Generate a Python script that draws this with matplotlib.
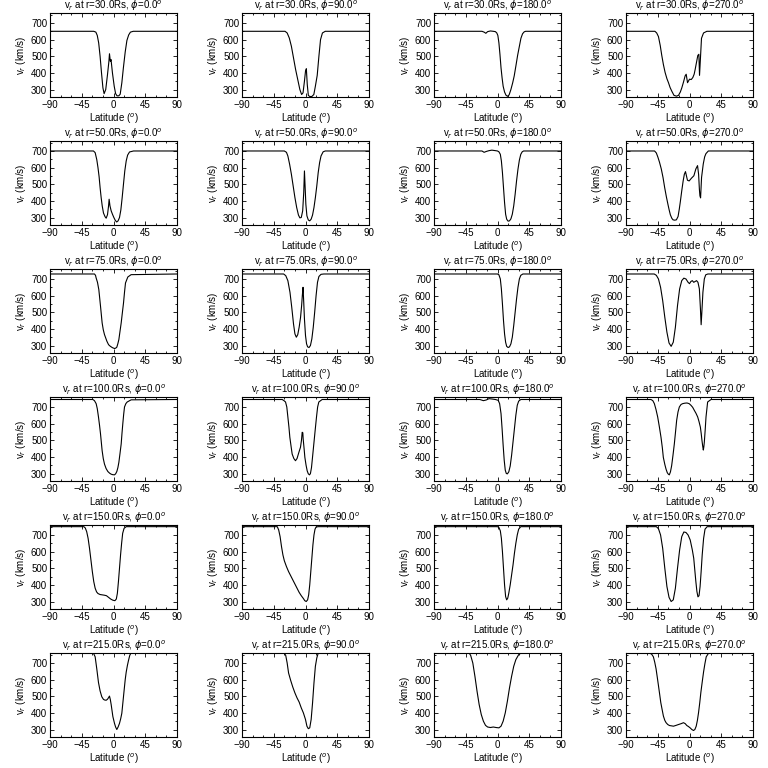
import numpy as np
import matplotlib
matplotlib.use("Agg")
import matplotlib.pyplot as plt
from matplotlib.ticker import MultipleLocator

plt.rcParams['font.family'] = ['Liberation Sans', 'DejaVu Sans']
plt.rcParams['mathtext.fontset'] = 'dejavusans'

radii = [30.0, 50.0, 75.0, 100.0, 150.0, 215.0]
phis = [0.0, 90.0, 180.0, 270.0]

# ---- r = 30 Rs ----
lat_30_0 = [-90, -28, -25, -23, -21, -19, -17, -15, -13.3, -11, -8.5, -6.5, -5.7, -4.5, -3.5, -1.5, 1, 3, 5, 7.5, 9.5, 11.8, 14, 16.6, 19, 21.5, 24, 28, 90]
v_30_0 = [650, 650, 645, 625, 580, 500, 400, 310, 275, 300, 390, 470, 515, 470, 480, 400, 320, 275, 262, 262, 272, 340, 430, 526, 595, 628, 645, 650, 650]
lat_30_90 = [-90, -29, -26, -23, -20, -17, -14, -11, -8, -5.5, -3.5, -1.5, 0, 1.2, 2.5, 4, 6, 9, 11.8, 14, 16.6, 19, 21.3, 24, 28, 90]
v_30_90 = [650, 650, 640, 610, 560, 490, 420, 360, 300, 270, 280, 350, 410, 425, 330, 265, 258, 258, 270, 320, 385, 500, 600, 640, 650, 650]
lat_30_180 = [-90, -22, -19, -16.5, -14, -10, -6, -3, -1, 0.5, 2, 3.5, 5, 6.5, 8, 10, 12, 14.3, 16.5, 19, 21.5, 23.7, 26, 28.5, 31, 33.2, 35.5, 37.9, 40, 43, 90]
v_30_180 = [650, 650, 645, 638, 648, 652, 650, 648, 640, 625, 580, 510, 430, 370, 320, 285, 266, 259, 268, 300, 340, 382, 440, 505, 560, 608, 635, 647, 650, 650, 650]
lat_30_270 = [-90, -49, -46.5, -44, -41.5, -39.3, -37, -34.6, -32, -29.8, -27.5, -25.1, -22, -18.5, -15.6, -13, -10.9, -8.5, -6.2, -4.7, -2.8, 0, 2.5, 4.7, 6.6, 8, 9.5, 11.8, 13.3, 14.2, 15.6, 17, 19.9, 24.6, 90]
v_30_270 = [650, 650, 640, 618, 565, 505, 450, 403, 365, 341, 312, 290, 265, 260, 265, 285, 310, 345, 382, 392, 341, 362, 360, 372, 392, 420, 454, 505, 512, 385, 495, 608, 640, 650, 650]

# ---- r = 50 Rs ----
lat_50_0 = [-90, -28.4, -26, -23.7, -22, -20.4, -19, -17.5, -16, -14.2, -12, -10.4, -8.5, -7, -6.2, -5, -3.3, -1.5, 0.5, 2.5, 4.5, 6.5, 8.5, 10.4, 12.3, 14.2, 16, 18, 20, 22.7, 28.4, 90]
v_50_0 = [700, 700, 690, 648, 600, 545, 480, 420, 370, 327, 305, 296, 317, 370, 410, 370, 340, 320, 300, 283, 273, 280, 300, 345, 420, 503, 580, 640, 675, 694, 700, 700]
lat_50_90 = [-90, -30, -27, -25, -22.5, -20, -17.5, -15, -12.5, -10, -8, -6, -4, -2.5, -1.5, -0.5, 0.5, 2, 4, 6, 8, 10, 12, 14, 16, 18, 20, 22, 25, 28, 90]
v_50_90 = [700, 700, 692, 670, 620, 560, 490, 420, 360, 315, 298, 300, 340, 450, 580, 480, 380, 310, 285, 280, 290, 315, 360, 420, 490, 570, 630, 670, 695, 700, 700]
lat_50_180 = [-90, -22, -19, -16, -12, -8, -3, 0, 2, 4, 5.5, 7, 8.5, 10, 11.5, 13, 15, 17, 19, 21, 23, 25, 27, 29, 31, 33, 35, 37, 90]
v_50_180 = [700, 700, 692, 697, 702, 705, 702, 700, 695, 680, 640, 570, 480, 390, 320, 290, 278, 280, 292, 320, 370, 440, 520, 590, 645, 680, 695, 700, 700]
lat_50_270 = [-90, -49.5, -47, -44.8, -42.5, -40, -37.5, -35.2, -32.8, -30.5, -28.8, -27.1, -25, -23.3, -21, -18.6, -16.2, -14.5, -12.9, -11, -9, -7.3, -5.7, -4.3, -2.9, -0.5, 2.9, 6.2, 9, 11.4, 12.9, 14, 14.8, 15.7, 16.4, 17.1, 19.5, 21.5, 23.3, 26.7, 90]
v_50_270 = [700, 700, 688, 663, 632, 592, 540, 480, 425, 378, 345, 316, 295, 286, 284, 286, 306, 350, 398, 460, 520, 560, 576, 550, 524, 520, 537, 551, 592, 612, 560, 470, 430, 418, 480, 541, 622, 665, 684, 700, 700]

# ---- r = 75 Rs ----
lat_75_0 = [-90, -27, -25.5, -24.6, -22.7, -20.8, -18.4, -16.1, -14.5, -12.8, -9.4, -7, -4.7, -1.5, 1.4, 3, 4.7, 6.1, 7.6, 9.2, 10.9, 12.5, 14.2, 15.6, 17, 20.3, 25, 90]
v_75_0 = [730, 730, 722, 706, 680, 636, 536, 436, 395, 366, 326, 305, 296, 287, 282, 284, 290, 310, 336, 385, 436, 495, 556, 620, 676, 712, 726, 730]
lat_75_90 = [-90, -31, -28, -25, -22, -19.5, -17, -15, -13, -11, -9, -7, -5.5, -4.5, -3.5, -2.5, -1.5, 0, 1.5, 3, 5, 7, 9, 11, 13, 15, 17, 19, 22, 26, 90]
v_75_90 = [730, 730, 720, 690, 620, 530, 430, 370, 350, 365, 410, 470, 540, 600, 650, 560, 460, 360, 310, 292, 288, 300, 340, 410, 500, 600, 680, 715, 728, 730, 730]
lat_75_180 = [-90, 0, 2, 4, 5.5, 7, 8.5, 10, 11.5, 13, 15, 17, 19, 21, 23, 25, 27, 29, 31, 33, 36, 90]
v_75_180 = [730, 730, 725, 700, 640, 550, 450, 370, 320, 295, 288, 292, 310, 350, 420, 500, 580, 650, 700, 722, 730, 730]
lat_75_270 = [-90, -50, -47, -44, -41, -38, -35, -32, -29, -26, -23, -20, -17, -14, -11, -8, -5, -2, 0, 2, 4, 6, 8, 10, 12, 14, 15.5, 16.5, 17.5, 19, 21, 23, 26, 90]
v_75_270 = [730, 730, 722, 700, 650, 570, 470, 380, 315, 295, 320, 410, 540, 640, 690, 705, 700, 680, 672, 685, 690, 680, 685, 690, 680, 640, 520, 425, 500, 620, 700, 725, 730, 730]

# ---- r = 100 Rs ----
lat_100_0 = [-90, -29.3, -27, -24.6, -23, -21.3, -19.8, -18.4, -17.2, -16.1, -14.5, -12.8, -10.5, -8, -5.5, -3.3, -1, 1.4, 3, 4.7, 6.2, 7.6, 9.2, 10.9, 12, 13.2, 14.4, 15.6, 17.5, 19.4, 25, 90]
v_100_0 = [745, 745, 738, 720, 690, 640, 590, 538, 485, 437, 390, 357, 330, 312, 302, 296, 293, 292, 298, 312, 335, 367, 420, 478, 540, 600, 655, 700, 720, 730, 743, 745]
lat_100_90 = [-90, -33, -30.5, -28.3, -26.5, -25, -23.5, -22.2, -20.5, -18.9, -16.5, -14.2, -12, -9.4, -7.1, -5.7, -4.7, -3.8, -3.3, -2, -0.9, 0.8, 2.4, 4, 5.7, 7, 8.5, 10, 11.8, 13.7, 15.6, 17.2, 18.9, 23.6, 90]
v_100_90 = [745, 745, 738, 730, 700, 640, 580, 518, 465, 417, 390, 377, 390, 427, 458, 500, 548, 545, 508, 450, 397, 350, 316, 298, 292, 300, 336, 400, 478, 560, 640, 700, 730, 745, 745]
lat_100_180 = [-90, -25, -20, -16, -12, -8, -3, 1, 3, 5, 6.5, 8, 9.5, 11, 12.5, 14, 16, 18, 20, 22, 24, 26, 28, 30, 33, 90]
v_100_180 = [745, 745, 738, 742, 750, 748, 745, 740, 720, 660, 570, 470, 380, 320, 300, 298, 310, 345, 410, 490, 570, 650, 710, 735, 745, 745]
lat_100_270 = [-90, -54.6, -52, -49.8, -47.5, -45.1, -42.7, -40.4, -38.5, -37.1, -35, -33.3, -31.5, -30, -28.6, -27, -25.3, -23.4, -21.5, -19.8, -18.2, -16.3, -14.4, -12, -9.7, -6.5, -3.5, -0.5, 2.1, 4.5, 6.8, 9.2, 11.6, 13.5, 15.4, 16.6, 17.7, 18.7, 19.6, 20.3, 21, 22.2, 23.4, 25.7, 30.5, 90]
v_100_270 = [745, 745, 738, 720, 685, 640, 580, 518, 455, 397, 355, 327, 305, 296, 292, 310, 347, 410, 478, 550, 620, 670, 700, 715, 720, 723, 724, 720, 710, 698, 680, 662, 640, 612, 579, 540, 498, 465, 441, 460, 488, 560, 640, 730, 745, 745]

# ---- r = 150 Rs ----
lat_150_0 = [-90, -42, -40, -38, -36, -34, -32, -30, -28, -26, -24, -22, -19, -16, -13, -10, -7, -4, -1, 2, 4, 5.5, 7, 8.5, 10, 11.5, 13, 15, 18, 90]
v_150_0 = [750, 750, 742, 720, 680, 620, 550, 480, 420, 380, 358, 348, 342, 340, 338, 335, 325, 315, 308, 305, 315, 350, 420, 500, 580, 650, 710, 740, 750, 750]
lat_150_90 = [-90, -40, -38, -36, -34, -32, -30, -27, -24, -21, -18, -15, -12, -9, -6, -3, -1, 1, 3, 4.5, 6, 7.5, 9, 10.5, 12, 13.5, 15, 18, 90]
v_150_90 = [750, 750, 730, 690, 630, 580, 545, 510, 480, 455, 430, 405, 380, 355, 335, 318, 305, 300, 310, 340, 400, 480, 560, 640, 700, 735, 748, 750, 750]
lat_150_180 = [-90, 0, 2, 4, 5.5, 7, 8.5, 10, 11.5, 13, 14.5, 16, 18, 20, 22, 24, 26, 28, 30, 33, 90]
v_150_180 = [750, 750, 745, 725, 680, 600, 500, 400, 330, 310, 320, 350, 400, 460, 520, 590, 650, 700, 735, 750, 750]
lat_150_270 = [-90, -47, -44, -41, -38, -35, -32, -29, -26, -23, -20, -17, -14, -11, -8, -5, -2, 1, 4, 6, 7.5, 9, 10.5, 12, 13.5, 15, 16.5, 18, 20, 22, 25, 90]
v_150_270 = [750, 750, 738, 700, 620, 500, 390, 325, 300, 310, 380, 500, 610, 690, 718, 715, 700, 670, 610, 560, 490, 420, 360, 328, 335, 390, 480, 580, 680, 735, 750, 750]

# ---- r = 215 Rs ----
lat_215_0 = [-90, -28.4, -26, -23.7, -21.3, -19, -16.6, -14.2, -12.3, -10.4, -8.5, -7.1, -5.7, -4.5, -3.3, -0.9, 1.4, 3, 4.7, 6.5, 8.5, 10.2, 11.8, 13.5, 15.2, 16.6, 18, 19.7, 21.3, 23, 24.6, 90]
v_215_0 = [759, 759, 737, 665, 583, 532, 497, 481, 477, 476, 482, 491, 501, 480, 450, 378, 337, 315, 300, 315, 337, 365, 398, 470, 542, 600, 645, 685, 716, 745, 759, 759]
lat_215_90 = [-90, -30, -28, -26, -24, -21, -18, -15, -12, -9, -6, -3, 0, 2, 4, 6, 8, 10, 12, 14, 16, 18, 90]
v_215_90 = [759, 759, 745, 700, 640, 595, 555, 520, 490, 465, 430, 400, 360, 320, 305, 310, 360, 460, 580, 680, 730, 759, 759]
lat_215_180 = [-90, -40, -38, -35, -32, -29, -26, -23, -20, -17, -14, -10, -6, -2, 2, 5, 8, 11, 14, 17, 20, 23, 26, 30, 33, 90]
v_215_180 = [759, 759, 745, 700, 620, 530, 450, 390, 350, 325, 315, 312, 315, 312, 310, 320, 350, 400, 470, 550, 620, 680, 720, 750, 759, 759]
lat_215_270 = [-90, -56, -53.5, -51.2, -49.3, -47.4, -45.7, -44, -42.3, -40.7, -38.8, -37, -35, -33.2, -30.8, -28.4, -25.5, -22.7, -19, -15.6, -12, -8.5, -6, -3.8, -1.5, 0.9, 3.3, 5.7, 7.6, 9.5, 11.2, 12.8, 14.5, 16.1, 18, 19.9, 21.8, 23.7, 27, 90]
v_215_270 = [759, 759, 752, 737, 705, 665, 615, 564, 512, 462, 420, 381, 355, 341, 330, 324, 322, 320, 325, 330, 335, 341, 335, 324, 318, 310, 300, 294, 300, 320, 355, 401, 460, 523, 585, 645, 695, 737, 759, 759]

curves = [
    [(lat_30_0, v_30_0), (lat_30_90, v_30_90), (lat_30_180, v_30_180), (lat_30_270, v_30_270)],
    [(lat_50_0, v_50_0), (lat_50_90, v_50_90), (lat_50_180, v_50_180), (lat_50_270, v_50_270)],
    [(lat_75_0, v_75_0), (lat_75_90, v_75_90), (lat_75_180, v_75_180), (lat_75_270, v_75_270)],
    [(lat_100_0, v_100_0), (lat_100_90, v_100_90), (lat_100_180, v_100_180), (lat_100_270, v_100_270)],
    [(lat_150_0, v_150_0), (lat_150_90, v_150_90), (lat_150_180, v_150_180), (lat_150_270, v_150_270)],
    [(lat_215_0, v_215_0), (lat_215_90, v_215_90), (lat_215_180, v_215_180), (lat_215_270, v_215_270)],
]

W = 768.0
fig = plt.figure(figsize=(7.68, 7.68), dpi=100)
fs = 7

for i, r in enumerate(radii):
    for j, phi in enumerate(phis):
        x0 = j * 192 + 50
        y0 = i * 128 + 13
        ax = fig.add_axes([x0 / W, 1 - (y0 + 84) / W, 127 / W, 84 / W])
        lat, v = curves[i][j]
        ax.plot(lat, v, color='k', lw=0.8)
        ax.set_xlim(-90, 90)
        ax.set_ylim(255, 760)
        ax.set_xticks([-90, -45, 0, 45, 90])
        ax.set_yticks([300, 400, 500, 600, 700])
        ax.xaxis.set_minor_locator(MultipleLocator(15))
        ax.yaxis.set_minor_locator(MultipleLocator(50))
        ax.tick_params(which='both', direction='in', top=True, right=True,
                       labelsize=fs, width=0.6, pad=2)
        ax.tick_params(which='major', length=3)
        ax.tick_params(which='minor', length=1.5)
        for s in ax.spines.values():
            s.set_linewidth(0.8)
        ax.set_title(f"v$_r$ at r={r:.1f}Rs, $\\phi$={phi:.1f}$^o$", fontsize=fs, pad=2)
        ax.set_xlabel("Latitude ($^o$)", fontsize=fs, labelpad=1)
        ax.set_ylabel("v$_r$ (km/s)", fontsize=fs, labelpad=2)

fig.savefig("out.png", dpi=100, facecolor='white')
